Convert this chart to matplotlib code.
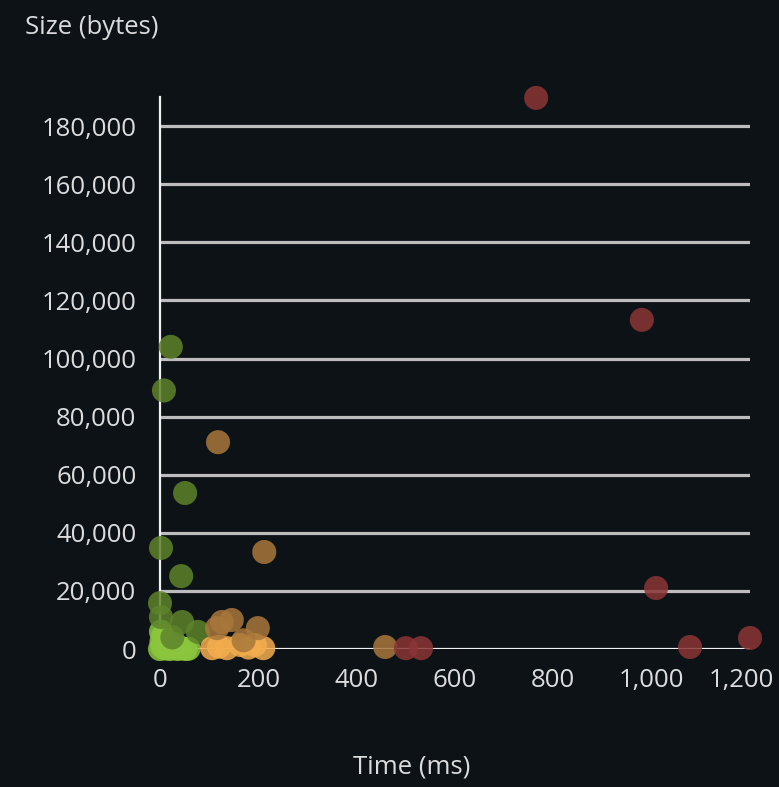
import matplotlib
matplotlib.use('Agg')
import matplotlib.pyplot as plt
import matplotlib.transforms as mtransforms
from matplotlib.ticker import FuncFormatter

# request timings: time (ms) vs size (bytes), grouped by colour
red_t = [765, 980, 1009, 1078, 1200, 500, 531]
red_s = [189700, 113300, 21000, 700, 3800, 300, 300]

brown_t = [118, 212, 458, 126, 146, 116, 199, 170]
brown_s = [71200, 33400, 700, 9300, 10000, 7200, 7200, 3000]

orange_t = [106, 136, 163, 193, 210, 120, 180]
orange_s = [300, 300, 1400, 1400, 300, 800, 500]

dgreen_t = [22, 8, 51, 2, 43, 0, 2, 45, 77, 25]
dgreen_s = [104000, 89000, 53700, 34800, 25100, 15800, 11000, 9300, 5900, 4000]

lgreen_t = [0, 5, 12, 20, 28, 36, 44, 52, 58, 3, 10, 2, 18, 30, 6]
lgreen_s = [0, 800, 200, 0, 400, 0, 300, 0, 100, 2500, 3500, 6000, 1500, 1800, 4500]

groups = [
    (lgreen_t, lgreen_s, '#8cc63f'),
    (dgreen_t, dgreen_s, '#5e832b'),
    (orange_t, orange_s, '#f3ad4e'),
    (brown_t, brown_s, '#a8773b'),
    (red_t, red_s, '#8b3535'),
]

bg = '#0d1217'
fg = '#dcdcdc'
fnt = 'Open Sans'
fs = 18.5

fig = plt.figure(figsize=(7.79, 7.87), dpi=100, facecolor=bg)
ax = fig.add_axes([0.2054, 0.1753, 0.7574, 0.7014], facecolor=bg)

ax.set_xlim(0, 1200)
ax.set_ylim(0, 190000)
yt = list(range(0, 180001, 20000))
ax.set_yticks(yt)
ax.set_xticks([0, 200, 400, 600, 800, 1000, 1200])
fmt = FuncFormatter(lambda v, p: f'{int(v):,}')
ax.xaxis.set_major_formatter(fmt)
ax.yaxis.set_major_formatter(fmt)

# horizontal grid lines
for v in yt:
    ax.axhline(v, color='#f0f0f0' if v == 0 else '#bdbdbd', lw=2.3, zorder=1)

for spine in ['top', 'right', 'bottom']:
    ax.spines[spine].set_visible(False)
ax.spines['left'].set_color('#f0f0f0')
ax.spines['left'].set_linewidth(1.6)
ax.spines['left'].set_zorder(2)

ax.tick_params(length=0, colors=fg, labelsize=fs)
ax.tick_params(axis='x', pad=14)
ax.tick_params(axis='y', pad=17)
for lab in ax.get_xticklabels() + ax.get_yticklabels():
    lab.set_fontfamily(fnt)

# nudge last x label left so it stays inside the picture
last = ax.get_xticklabels()[-1]
last.set_transform(last.get_transform() + mtransforms.ScaledTranslation(-6 / 72, 0, fig.dpi_scale_trans))

for t, s, c in groups:
    ax.scatter(t, s, s=300, color=c, alpha=0.85, edgecolors='none', zorder=3, clip_on=False)

fig.text(25 / 779, 1 - 28 / 787, 'Size (bytes)', color=fg, fontsize=fs, family=fnt, va='center', ha='left')
fig.text(412 / 779, 1 - 767 / 787, 'Time (ms)', color=fg, fontsize=fs, family=fnt, va='center', ha='center')

fig.savefig('out.png', dpi=100, facecolor=bg)
